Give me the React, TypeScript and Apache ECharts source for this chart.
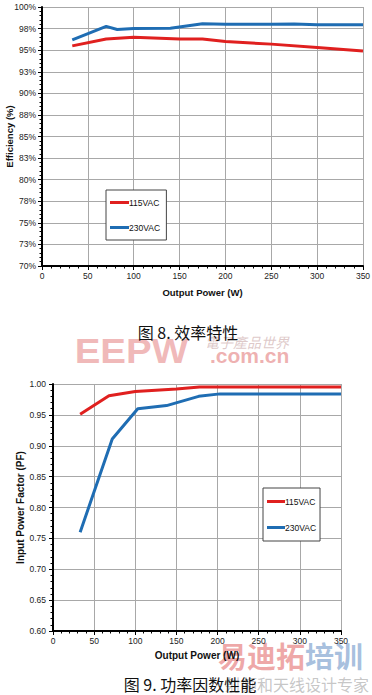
import React, { useEffect, useRef } from "react";
import * as echarts from "echarts";

// Figure 8: efficiency
const effPower115 = [33, 70, 100, 150, 175, 200, 250, 300, 350];
const eff115 = [95.5, 96.3, 96.5, 96.3, 96.3, 96.0, 95.7, 95.3, 94.9];
const effPower230 = [33, 70, 82, 100, 140, 175, 200, 250, 275, 300, 350];
const eff230 = [96.2, 97.75, 97.4, 97.5, 97.55, 98.05, 98.0, 98.0, 98.02, 97.95, 97.95];

// Figure 9: power factor
const pfPower115 = [33, 68, 100, 150, 178, 250, 350];
const pf115 = [0.951, 0.981, 0.988, 0.992, 0.995, 0.995, 0.995];
const pfPower230 = [33, 72, 103, 138, 177, 203, 250, 350];
const pf230 = [0.76, 0.911, 0.96, 0.965, 0.98, 0.984, 0.984, 0.984];

const seriesNames = ["115VAC", "230VAC"];
const captions = ["图 8. 效率特性", "图 9. 功率因数性能"];

const RED = "#e0201f";
const BLUE = "#1f6db3";
const GRID = "#a8a8a8";
const FONT = "Liberation Sans";
const CJK = "Noto Sans CJK SC";

const pairs = (xs: number[], ys: number[]) => xs.map((x, i) => [x, ys[i]]);

export default function App() {
  const ref = useRef<HTMLDivElement>(null);
  useEffect(() => {
    document.body.style.margin = "0";
    const chart = echarts.init(ref.current!, undefined, { renderer: "svg" });
    const axisCommon = {
      axisLine: { show: true, onZero: false, lineStyle: { color: "#000", width: 2 } },
      axisTick: { show: true, length: 4, lineStyle: { color: "#000", width: 1 } },
      minorTick: { show: true, splitNumber: 5, length: 2.5, lineStyle: { color: "#000", width: 1 } },
      splitLine: { show: true, lineStyle: { color: GRID, width: 1 } },
      nameLocation: "middle" as const,
      nameMoveOverlap: false,
      nameTextStyle: { fontFamily: FONT, fontWeight: "bold" as const, fontSize: 9.5, color: "#111" },
    };
    const labelStyle = { fontFamily: FONT, fontSize: 8.5, color: "#222" };
    const legendCommon = {
      orient: "vertical" as const,
      icon: "rect",
      itemHeight: 3,
      borderColor: "#444",
      borderWidth: 1,
      backgroundColor: "#fff",
      textStyle: { ...labelStyle, color: "#111", padding: [0, 0, 0, -5] },
    };
    const txt = (text: string, x: number, y: number, font: string, fill: string, z: number, align = "left") => ({
      type: "text",
      x,
      y,
      z,
      silent: true,
      style: { text, font, fill, align, verticalAlign: "middle" },
    });
    chart.setOption({
      animation: false,
      backgroundColor: "#fff",
      grid: [
        { left: 42, top: 7, width: 321, height: 259, containLabel: false, outerBoundsMode: "none" },
        { left: 53, top: 384, width: 288, height: 247, containLabel: false, outerBoundsMode: "none" },
      ],
      xAxis: [
        {
          ...axisCommon,
          gridIndex: 0,
          type: "value",
          min: 0,
          max: 350,
          interval: 50,
          name: "Output Power (W)",
          nameGap: 21,
          axisLabel: { ...labelStyle, margin: 5 },
        },
        {
          ...axisCommon,
          gridIndex: 1,
          type: "value",
          min: 0,
          max: 350,
          interval: 50,
          name: "Output Power (W)",
          nameGap: 19,
          nameTextStyle: { ...axisCommon.nameTextStyle, fontSize: 10 },
          axisLabel: { ...labelStyle, margin: 5 },
        },
      ],
      yAxis: [
        {
          ...axisCommon,
          gridIndex: 0,
          type: "value",
          min: 70,
          max: 100,
          interval: 2.5,
          name: "Efficiency (%)",
          nameGap: 28,
          axisLabel: { ...labelStyle, margin: 6, formatter: (v: number) => Math.round(v) + "%" },
        },
        {
          ...axisCommon,
          gridIndex: 1,
          type: "value",
          min: 0.6,
          max: 1.0,
          interval: 0.05,
          name: "Input Power Factor (PF)",
          nameGap: 28,
          nameTextStyle: { ...axisCommon.nameTextStyle, fontSize: 10 },
          axisLabel: { ...labelStyle, margin: 7, formatter: (v: number) => v.toFixed(2) },
        },
      ],
      legend: [
        {
          ...legendCommon,
          left: 106,
          top: 190,
          data: [
            { name: seriesNames[0] + " ", itemStyle: { color: RED } },
            { name: seriesNames[1] + " ", itemStyle: { color: BLUE } },
          ],
          itemWidth: 19,
          itemGap: 16,
          padding: [8, 4, 8, 4],
        },
        {
          ...legendCommon,
          left: 263,
          top: 488,
          data: [
            { name: seriesNames[0], itemStyle: { color: RED } },
            { name: seriesNames[1], itemStyle: { color: BLUE } },
          ],
          itemWidth: 18,
          itemGap: 17,
          padding: [9, 4, 9, 4],
        },
      ],
      series: [
        {
          type: "line",
          name: seriesNames[0] + " ",
          xAxisIndex: 0,
          yAxisIndex: 0,
          data: pairs(effPower115, eff115),
          showSymbol: false,
          lineStyle: { color: RED, width: 3 },
          itemStyle: { color: RED },
        },
        {
          type: "line",
          name: seriesNames[1] + " ",
          xAxisIndex: 0,
          yAxisIndex: 0,
          data: pairs(effPower230, eff230),
          showSymbol: false,
          lineStyle: { color: BLUE, width: 3 },
          itemStyle: { color: BLUE },
        },
        {
          type: "line",
          name: seriesNames[0],
          xAxisIndex: 1,
          yAxisIndex: 1,
          data: pairs(pfPower115, pf115),
          showSymbol: false,
          lineStyle: { color: RED, width: 3 },
          itemStyle: { color: RED },
        },
        {
          type: "line",
          name: seriesNames[1],
          xAxisIndex: 1,
          yAxisIndex: 1,
          data: pairs(pfPower230, pf230),
          showSymbol: false,
          lineStyle: { color: BLUE, width: 3 },
          itemStyle: { color: BLUE },
        },
      ],
      graphic: [
        // watermark EEPW
        {
          ...txt("EEPW", 83, 351, "bold 35px " + FONT, "rgba(228,125,125,0.55)", 0),
          scaleX: 1.1,
          originX: 83,
          originY: 351,
        },
        txt("電子產品世界", 205, 342, "italic 14px " + CJK, "rgba(200,165,165,0.6)", 0),
        txt(".com.cn", 210, 355, "bold 21px " + FONT, "rgba(228,125,125,0.6)", 0),
        txt(captions[0], 188, 332, "16px " + CJK, "#111", 10, "center"),
        // watermark bottom
        txt("易迪拓", 218, 655, "bold 29px " + CJK, "rgba(228,110,110,0.6)", 0),
        txt("培训", 305, 655, "bold 29px " + CJK, "rgba(110,150,200,0.6)", 0),
        txt("射频和天线设计专家", 225, 684, "16px " + CJK, "rgba(150,150,150,0.55)", 0),
        txt(captions[1], 190, 684, "16px " + CJK, "#111", 10, "center"),
      ],
    });
    return () => chart.dispose();
  }, []);
  return <div ref={ref} style={{ width: 372, height: 695 }} />;
}
